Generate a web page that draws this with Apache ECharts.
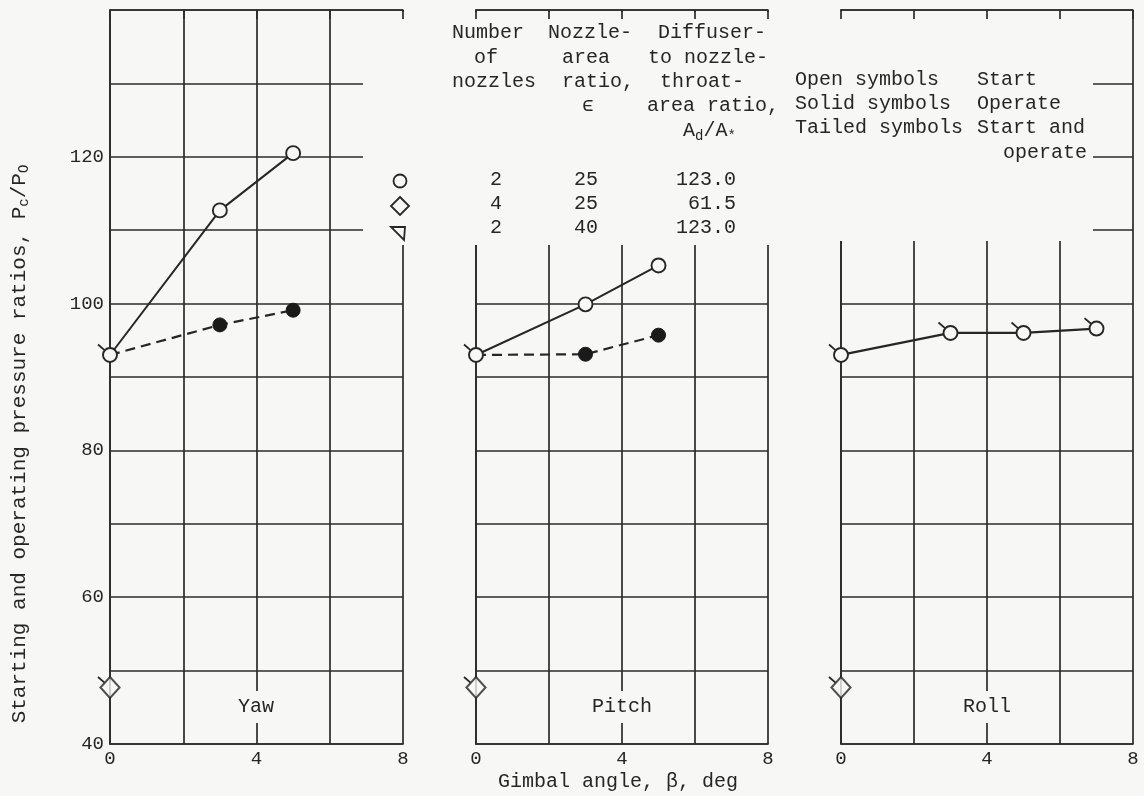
<!DOCTYPE html>
<html>
<head>
<meta charset="utf-8">
<script src="https://cdn.jsdelivr.net/npm/echarts@6/dist/echarts.min.js"></script>
<style>
  html, body { margin: 0; padding: 0; background: #f7f7f5; }
  #chart { width: 1144px; height: 796px; }
</style>
</head>
<body>
<div id="chart"></div>
<script>
// gimbal angles (deg) and pressure ratios
var yawAngles = [0, 3, 5];
var yawStart = [93, 112.7, 120.5];
var yawOperate = [93, 97.1, 99.1];

var pitchAngles = [0, 3, 5];
var pitchStart = [93, 99.9, 105.2];
var pitchOperate = [93, 93.1, 95.7];

var rollAngles = [0, 3, 5, 7];
var rollStartOperate = [93, 96, 96, 96.6];

// 4 nozzle, tailed diamond at zero gimbal in each panel
var diamondAngle = 0;
var diamondValue = 47.7;

var panelNames = ['Yaw', 'Pitch', 'Roll'];
var xTicks = [0, 4, 8];
var yTicks = [40, 60, 80, 100, 120];

// table in the middle panel
var nozzleCounts = ['2', '4', '2'];
var areaRatios = ['25', '25', '40'];
var diffuserRatios = ['123.0', '61.5', '123.0'];

var bg = '#f7f7f5';
var ink = '#262626';
var font = 'Liberation Mono';
var fs = 20;

var grids = [
    { left: 110, width: 293, top: 10, height: 734, outerBoundsMode: 'none', containLabel: false },
    { left: 476, width: 292, top: 10, height: 734, outerBoundsMode: 'none', containLabel: false },
    { left: 841, width: 292, top: 10, height: 734, outerBoundsMode: 'none', containLabel: false }
];

var gridLine = { color: '#2b2b2b', width: 1.7 };

var xAxes = [], yAxes = [];
panelNames.forEach(function (name, i) {
    xAxes.push({
        gridIndex: i, type: 'value', min: 0, max: 8, interval: 2, z: 0,
        axisLine: { show: true, onZero: false, lineStyle: gridLine },
        axisTick: { show: false },
        splitLine: { show: true, lineStyle: gridLine },
        axisLabel: {
            margin: 5, fontFamily: font, fontSize: 19, color: ink,
            formatter: function (v) { return xTicks.indexOf(v) >= 0 ? String(v) : ''; }
        }
    });
    yAxes.push({
        gridIndex: i, type: 'value', min: 40, max: 140, interval: 10, z: 0,
        axisLine: { show: true, onZero: false, lineStyle: gridLine },
        axisTick: { show: false },
        splitLine: { show: true, lineStyle: gridLine },
        axisLabel: {
            show: i === 0, margin: 6, fontFamily: font, fontSize: 19, color: ink,
            formatter: function (v) { return yTicks.indexOf(v) >= 0 ? String(v) : ''; }
        }
    });
});
// top border ticks
panelNames.forEach(function (name, i) {
    xAxes.push({
        gridIndex: i, type: 'value', position: 'top', min: 0, max: 8, interval: 2, z: 5,
        axisLine: { show: true, onZero: false, lineStyle: gridLine },
        axisTick: { show: true, inside: true, length: 9, lineStyle: gridLine },
        splitLine: { show: false },
        axisLabel: { show: false }
    });
});

function pairs(xs, ys) {
    return ys.map(function (v, i) { return [xs[i], v]; });
}

var openSym = { color: bg, borderColor: ink, borderWidth: 1.9 };
var solidSym = { color: '#1a1a1a', borderColor: '#1a1a1a', borderWidth: 1 };

function tail(params, api) {
    var p = api.coord([api.value(0), api.value(1)]);
    return {
        type: 'line',
        shape: { x1: p[0] - 5.5, y1: p[1] - 4.8, x2: p[0] - 12, y2: p[1] - 10.5 },
        style: { stroke: ink, lineWidth: 1.8 }
    };
}

var series = [];
// yaw + pitch: start (open, solid line) and operate (solid, dashed line)
[[yawAngles, yawStart, yawOperate], [pitchAngles, pitchStart, pitchOperate]].forEach(function (d, i) {
    series.push({
        type: 'line', xAxisIndex: i, yAxisIndex: i, z: 10,
        data: pairs(d[0], d[1]),
        symbol: 'circle', symbolSize: 14,
        lineStyle: { color: ink, width: 2 },
        itemStyle: openSym
    });
    series.push({
        type: 'line', xAxisIndex: i, yAxisIndex: i, z: 9,
        data: pairs(d[0], d[2]).map(function (p, k) {
            return { value: p, symbol: k === 0 ? 'none' : 'circle' };
        }),
        symbolSize: 14,
        lineStyle: { color: ink, width: 2.2, type: [10, 6] },
        itemStyle: solidSym
    });
    series.push({
        type: 'custom', xAxisIndex: i, yAxisIndex: i, z: 11,
        data: [pairs(d[0], d[1])[0]],
        renderItem: tail
    });
});
// roll: start and operate (tailed)
series.push({
    type: 'line', xAxisIndex: 2, yAxisIndex: 2, z: 10,
    data: pairs(rollAngles, rollStartOperate),
    symbol: 'circle', symbolSize: 14,
    lineStyle: { color: ink, width: 2.3 },
    itemStyle: openSym
});
series.push({
    type: 'custom', xAxisIndex: 2, yAxisIndex: 2, z: 11,
    data: pairs(rollAngles, rollStartOperate),
    renderItem: tail
});
// tailed diamonds
panelNames.forEach(function (name, i) {
    series.push({
        type: 'scatter', xAxisIndex: i, yAxisIndex: i, z: 10,
        data: [[diamondAngle, diamondValue]],
        symbol: 'diamond', symbolSize: [19, 21],
        itemStyle: { color: bg, borderColor: ink, borderWidth: 2.1 }
    });
    series.push({
        type: 'custom', xAxisIndex: i, yAxisIndex: i, z: 11,
        data: [[diamondAngle, diamondValue]],
        renderItem: tail
    });
});

function txt(x, y, text, align, extra) {
    var style = {
        text: text, x: x, y: y, fill: ink, font: fs + 'px "' + font + '"',
        align: align || 'left', verticalAlign: 'middle'
    };
    if (extra) { for (var k in extra) style[k] = extra[k]; }
    return { type: 'text', z: 20, style: style };
}

var subRich = { sub: { fontSize: 14, fontFamily: font, fill: ink, verticalAlign: 'bottom', lineHeight: 24 } };

var graphics = [
    // blank areas where the grid was left open in the original
    { type: 'rect', z: 1, shape: { x: 363, y: 12, width: 44, height: 233 }, style: { fill: bg } },
    { type: 'rect', z: 1, shape: { x: 472, y: 12, width: 300, height: 233 }, style: { fill: bg } },
    { type: 'rect', z: 1, shape: { x: 837, y: 11, width: 256, height: 230 }, style: { fill: bg } },

    // symbol key beside the yaw panel
    { type: 'circle', z: 20, shape: { cx: 400, cy: 181, r: 6.5 }, style: { fill: bg, stroke: ink, lineWidth: 1.8 } },
    { type: 'polygon', z: 20, shape: { points: [[400, 197], [409, 206], [400, 215], [391, 206]] }, style: { fill: bg, stroke: ink, lineWidth: 1.8 } },
    { type: 'polygon', z: 20, shape: { points: [[391, 227], [405, 227], [404, 240]] }, style: { fill: bg, stroke: ink, lineWidth: 1.8 } },

    // y axis title
    {
        type: 'text', z: 20, x: 19, y: 444, rotation: Math.PI / 2,
        style: {
            text: 'Starting and operating pressure ratios, P{sub|c}/P{sub|O}',
            fill: ink, font: '21px "' + font + '"', lineHeight: 24,
            align: 'center', verticalAlign: 'middle', rich: subRich
        }
    },

    // column headings
    txt(452, 33, 'Number'), txt(474, 58, 'of'), txt(452, 82, 'nozzles'),
    txt(548, 33, 'Nozzle-'), txt(562, 58, 'area'), txt(562, 82, 'ratio,'), txt(588, 106, 'ϵ', 'center'),
    txt(658, 33, 'Diffuser-'), txt(648, 58, 'to nozzle-'), txt(660, 82, 'throat-'), txt(647, 106, 'area ratio,'),
    {
        type: 'text', z: 20,
        style: {
            text: 'A{sub|d}/A{sub|*}', x: 683, y: 131, fill: ink, verticalAlign: 'middle',
            font: fs + 'px "' + font + '"', lineHeight: 24, rich: subRich
        }
    },

    // symbol meaning
    txt(795, 80, 'Open symbols'), txt(795, 104, 'Solid symbols'), txt(795, 128, 'Tailed symbols'),
    txt(977, 80, 'Start'), txt(977, 104, 'Operate'), txt(977, 128, 'Start and'), txt(1087, 153, 'operate', 'right'),

    // x axis title
    txt(618, 782, 'Gimbal angle, β, deg', 'center')
];

// table rows
nozzleCounts.forEach(function (n, r) {
    var y = 180 + r * 24;
    graphics.push(txt(496, y, n, 'center'));
    graphics.push(txt(586, y, areaRatios[r], 'center'));
    graphics.push(txt(736, y, diffuserRatios[r], 'right'));
});

// panel names with a gap in the centre grid line
var nameX = [256, 622, 987];
panelNames.forEach(function (name, i) {
    graphics.push(txt(nameX[i], 707, name, 'center', { backgroundColor: bg, padding: [6, 3] }));
});

var option = {
    backgroundColor: bg,
    animation: false,
    grid: grids,
    xAxis: xAxes,
    yAxis: yAxes,
    series: series,
    graphic: graphics
};

var chart = echarts.init(document.getElementById('chart'));
chart.setOption(option);
</script>
</body>
</html>
